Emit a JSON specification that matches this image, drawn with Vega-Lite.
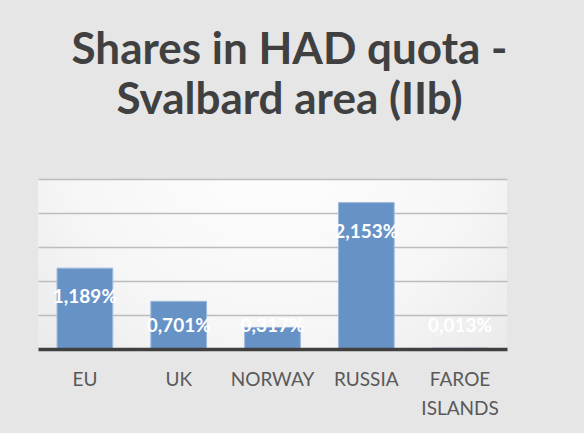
{
  "$schema": "https://vega.github.io/schema/vega-lite/v6.json",
  "autosize": "none",
  "width": 469,
  "height": 170,
  "padding": {"left": 38, "top": 179, "right": 77, "bottom": 84},
  "background": "#e6e6e6",
  "title": {
    "text": ["Shares in HAD quota -", "Svalbard area (IIb)"],
    "font": "Lato",
    "fontSize": 44,
    "fontWeight": "bold",
    "color": "#404040",
    "lineHeight": 50,
    "anchor": "middle",
    "dx": 17,
    "offset": 56
  },
  "config": {
    "view": {
      "stroke": null,
      "fill": {
        "gradient": "radial",
        "x1": 0.5, "y1": 0.2, "r1": 0,
        "x2": 0.5, "y2": 0.2, "r2": 0.9,
        "stops": [
          {"offset": 0, "color": "#ffffff"},
          {"offset": 0.5, "color": "#f6f6f6"},
          {"offset": 1, "color": "#e0e0e0"}
        ]
      }
    }
  },
  "data": {
    "values": [
      {"country": "EU", "share": 1.189, "label": "1,189%"},
      {"country": "UK", "share": 0.701, "label": "0,701%"},
      {"country": "NORWAY", "share": 0.317, "label": "0,317%"},
      {"country": "RUSSIA", "share": 2.153, "label": "2,153%"},
      {"country": "FAROE ISLANDS", "share": 0.013, "label": "0,013%"}
    ]
  },
  "encoding": {
    "x": {
      "field": "country",
      "type": "nominal",
      "sort": null,
      "scale": {"paddingInner": 0.406, "paddingOuter": 0.203},
      "axis": {
        "title": null,
        "labelAngle": 0,
        "labelFont": "Lato",
        "labelFontSize": 19,
        "labelColor": "#595959",
        "labelLineHeight": 29,
        "labelPadding": 21,
        "labelExpr": "split(datum.label, ' ')",
        "ticks": false,
        "domainColor": "#404040",
        "domainWidth": 3.5,
        "grid": false,
        "zindex": 1
      }
    }
  },
  "layer": [
    {
      "mark": {"type": "bar", "color": "#6792c6", "stroke": "#9db8dd", "strokeWidth": 1},
      "encoding": {
        "y": {
          "field": "share",
          "type": "quantitative",
          "scale": {"domain": [0, 2.5], "nice": false},
          "axis": {
            "title": null,
            "labels": false,
            "ticks": false,
            "domain": false,
            "values": [0.5, 1, 1.5, 2, 2.5],
            "grid": true,
            "gridColor": "#bdbdbd",
            "gridWidth": 1.5
          }
        }
      }
    },
    {
      "transform": [{"filter": "datum.share >= 1"}],
      "mark": {"type": "text", "color": "#ffffff", "font": "Lato", "fontWeight": "bold", "fontSize": 19, "baseline": "alphabetic", "dy": 35},
      "encoding": {
        "y": {"field": "share", "type": "quantitative"},
        "text": {"field": "label"}
      }
    },
    {
      "transform": [{"filter": "datum.share < 1"}],
      "mark": {"type": "text", "color": "#ffffff", "font": "Lato", "fontWeight": "bold", "fontSize": 19, "baseline": "alphabetic", "dy": -17},
      "encoding": {
        "y": {"datum": 0},
        "text": {"field": "label"}
      }
    }
  ]
}
